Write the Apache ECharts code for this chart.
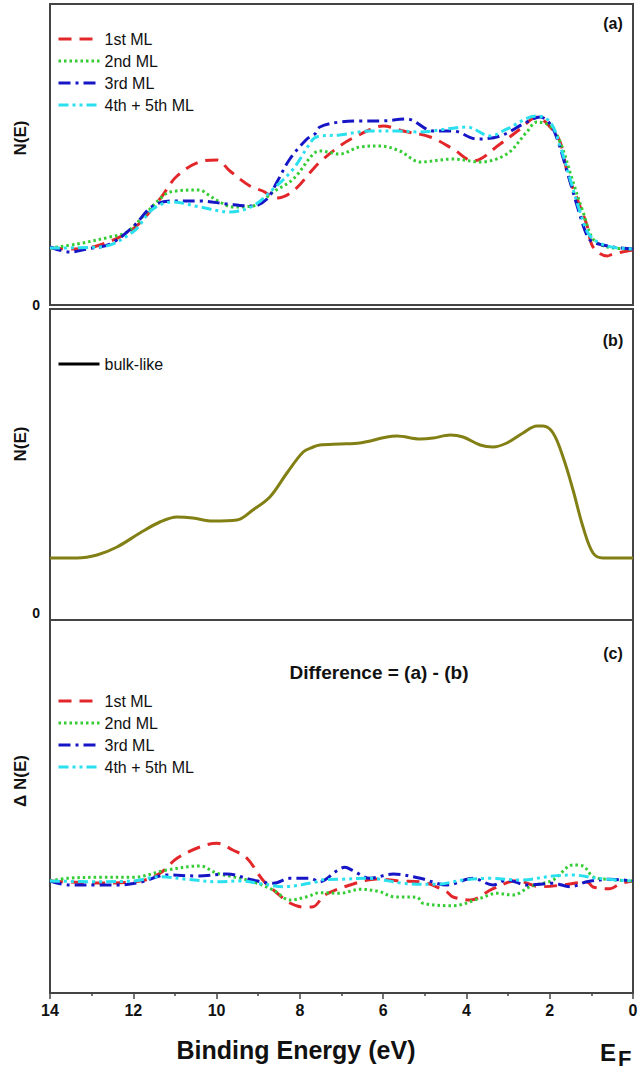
<!DOCTYPE html>
<html>
<head>
<meta charset="utf-8">
<script src="https://cdn.jsdelivr.net/npm/echarts/dist/echarts.min.js"></script>
<style>
  html, body { margin: 0; padding: 0; background: #fff; }
  #chart { width: 644px; height: 1070px; }
</style>
</head>
<body>
<div id="chart"></div>
<script>
// Valence-band spectra: binding energy (eV) vs N(E), arbitrary units.
// Each curve is a list of [binding energy, intensity] pairs.

// (a) monolayer spectra
const ml1A = [[14.0,57],[13.40,56],[12.80,60],[12.01,76],[11.36,106],[10.95,129],[10.33,144],[9.99,145],[9.68,134],[9.20,119],[8.89,114],[8.55,107],[8.16,114],[7.68,136],[7.52,143],[7.04,159],[6.63,169],[6.00,179],[5.52,174],[4.87,168],[4.32,156],[3.84,144],[3.19,161],[2.71,176],[2.31,188],[1.99,178],[1.75,163],[1.58,133],[1.34,106],[1.10,79],[0.96,58],[0.62,49],[0.48,51],[0.00,55]];
const ml2A = [[14.0,57],[13.35,61],[12.56,68],[12.15,73],[11.67,93],[11.36,106],[11.12,113],[10.40,115],[10.23,111],[9.92,103],[9.61,98],[9.13,99],[8.64,113],[8.16,126],[7.68,151],[7.52,154],[7.04,151],[6.56,158],[6.08,159],[5.60,154],[5.11,143],[4.32,146],[3.67,143],[3.03,151],[2.55,173],[2.31,183],[1.99,179],[1.75,163],[1.44,123],[1.20,93],[0.96,66],[0.62,58],[0.00,56]];
const ml3A = [[14.0,58],[13.52,53],[13.11,56],[12.56,61],[12.01,78],[11.53,99],[11.05,104],[10.40,104],[9.75,101],[9.13,99],[8.79,106],[8.55,123],[8.24,146],[7.83,166],[7.64,171],[7.52,178],[7.04,183],[6.56,184],[6.08,184],[5.43,186],[4.80,174],[4.32,174],[3.75,166],[3.19,169],[2.55,183],[2.23,188],[1.99,181],[1.82,166],[1.58,133],[1.34,99],[1.10,69],[0.96,63],[0.48,58],[0.00,56]];
const ml45A = [[14.0,57],[12.80,58],[12.01,73],[11.53,96],[11.05,103],[10.40,98],[9.68,93],[9.13,99],[8.64,116],[8.16,136],[7.68,166],[7.52,169],[7.04,170],[6.32,174],[5.67,174],[5.11,173],[4.47,176],[3.99,178],[3.43,169],[3.03,176],[2.31,189],[1.99,183],[1.75,159],[1.51,126],[1.27,93],[1.03,69],[0.62,59],[0.00,56]];

// (b) bulk-like reference spectrum
const bulk = [[14.0,62],[13.35,62],[12.87,65],[12.39,73],[11.84,87],[11.36,98],[10.95,103],[10.57,102],[10.09,99],[9.51,100],[9.13,110],[8.72,123],[8.31,147],[7.92,168],[7.68,173],[7.52,175],[7.04,176],[6.56,177],[5.91,183],[5.67,184],[5.11,181],[4.80,182],[4.39,185],[4.08,183],[3.67,175],[3.36,173],[3.03,177],[2.64,187],[2.31,194],[2.16,194],[1.92,187],[1.68,163],[1.44,130],[1.20,93],[0.96,67],[0.72,62],[0.00,62]];

// (c) difference spectra, (a) - (b)
const ml1C = [[14.0,0],[12.80,-2],[11.84,0],[11.36,7.7],[10.95,22.7],[10.40,34],[9.99,37.7],[9.61,31],[9.27,22.7],[8.89,1],[8.55,-12],[8.24,-22],[7.92,-26],[7.68,-25.7],[7.40,-14],[6.72,-3],[6.15,2],[5.60,0],[5.04,-1.3],[4.47,-11],[4.32,-16],[3.91,-19],[3.36,-7.7],[2.79,0.3],[2.23,-5.7],[1.68,-4],[1.10,-1],[0.96,-6],[0.55,-7.7],[0.31,-2.7],[0.00,0]];
const ml2C = [[14.0,0],[13.59,2.7],[12.80,3.7],[12.01,3.7],[11.19,11],[10.40,15],[9.99,7.7],[9.61,4.3],[9.13,-0.7],[8.64,-9],[8.24,-19],[7.83,-15.7],[7.52,-11.7],[7.04,-12.3],[6.56,-8.3],[6.08,-10.7],[5.76,-15.7],[5.19,-16.3],[5.04,-22.3],[4.32,-24.7],[3.67,-17.3],[3.27,-12.3],[2.88,-14],[2.47,-5.7],[1.92,1],[1.44,16],[1.20,15],[0.96,4.3],[0.62,1.7],[0.00,0]];
const ml3C = [[14.0,0],[13.52,-4],[12.87,-4],[12.39,-4],[11.84,-1.3],[11.19,6],[10.47,5],[9.75,7],[9.13,1],[8.64,-2.3],[8.24,2.7],[7.76,2.7],[7.52,-0.7],[7.11,10.3],[6.92,13.7],[6.72,10.3],[6.32,2.7],[5.76,7],[5.11,2.7],[4.47,-4],[3.84,2.7],[3.36,-4],[3.03,1],[2.55,-4],[1.92,-2.3],[1.51,-5.7],[1.10,-0.7],[0.55,1.7],[0.00,0]];
const ml45C = [[14.0,0],[12.80,-0.7],[12.01,0],[11.36,4.3],[10.71,1.7],[9.99,-0.7],[9.44,0],[8.89,-3],[8.40,-5.7],[7.59,-0.7],[7.52,1],[7.04,1.7],[6.32,2.7],[5.52,-2.3],[4.71,-3.3],[4.08,1],[3.43,2.7],[2.71,1],[1.92,5],[1.44,6],[0.86,2.7],[0.00,0]];

const layerNames = ['1st ML', '2nd ML', '3rd ML', '4th + 5th ML'];
const energyTicks = [14, 12, 10, 8, 6, 4, 2, 0];

const FONT = '"Liberation Sans", Arial, Helvetica, sans-serif';
const FRAME = '#444';

const lineStyles = {
  '1st ML':       { color: '#e3262a', width: 3, type: [13, 8] },
  '2nd ML':       { color: '#33cc33', width: 3, type: [2.5, 3] },
  '3rd ML':       { color: '#1616c6', width: 3, type: [12, 5, 3, 5] },
  '4th + 5th ML': { color: '#2ae0ee', width: 3, type: [10, 4, 3, 4, 3, 4] }
};

function curve(name, data, idx) {
  return {
    name: name,
    type: 'line',
    xAxisIndex: idx,
    yAxisIndex: idx,
    data: data,
    smooth: 0.35,
    symbol: 'none',
    showSymbol: false,
    lineStyle: Object.assign({}, lineStyles[name]),
    itemStyle: { color: lineStyles[name].color },
    z: 3
  };
}

const chart = echarts.init(document.getElementById('chart'), null, { renderer: 'svg' });

const gridBase = { show: true, borderColor: FRAME, borderWidth: 2, backgroundColor: 'transparent', left: 50, right: 11 };

function hiddenX(idx) {
  return {
    type: 'value', gridIndex: idx, min: 0, max: 14, interval: 2, inverse: true,
    axisLine: { show: false }, axisTick: { show: false }, axisLabel: { show: false }, splitLine: { show: false }
  };
}

function zeroY(idx, max, vAlign) {
  return {
    type: 'value', gridIndex: idx, min: 0, max: max, interval: max,
    axisLine: { show: false }, axisTick: { show: false }, splitLine: { show: false },
    axisLabel: {
      show: true, margin: 10, color: '#111', fontFamily: FONT, fontWeight: 'bold', fontSize: 14,
      verticalAlign: vAlign,
      formatter: v => (v === 0 ? '0' : '')
    }
  };
}

// Legend entries show only the line sample (the marker is hidden).
function legendAt(top, names) {
  return {
    orient: 'vertical', left: 52, top: top,
    itemWidth: 41, itemHeight: 14, itemGap: 6,
    data: names,
    selectedMode: false,
    itemStyle: { opacity: 0, borderWidth: 0, color: 'transparent' },
    lineStyle: { width: 3 },
    textStyle: { fontFamily: FONT, fontSize: 16, color: '#111' }
  };
}

const labelText = (x, y, text, size, extra) => Object.assign({
  type: 'text', x: x, y: y, silent: true,
  style: { text: text, fill: '#111', font: 'bold ' + size + 'px ' + FONT, textAlign: 'center', textVerticalAlign: 'middle' }
}, extra || {});

chart.setOption({
  backgroundColor: '#fff',
  animation: false,
  grid: [
    Object.assign({ top: 4, height: 301 }, gridBase),
    Object.assign({ top: 309, height: 311 }, gridBase),
    Object.assign({ top: 620, height: 373 }, gridBase)
  ],
  xAxis: [
    hiddenX(0),
    hiddenX(1),
    {
      type: 'value', gridIndex: 2, min: 0, max: 14, interval: 2, inverse: true,
      axisLine: { show: true, onZero: false, lineStyle: { color: FRAME, width: 2 } },
      axisTick: { show: true, inside: false, length: 6, lineStyle: { color: FRAME, width: 1.5 } },
      minorTick: { show: true, splitNumber: 2, length: 3, lineStyle: { color: FRAME, width: 1.5 } },
      splitLine: { show: false },
      axisLabel: {
        margin: 9, color: '#111', fontFamily: FONT, fontWeight: 'bold', fontSize: 16,
        formatter: v => (energyTicks.indexOf(v) >= 0 ? String(v) : '')
      }
    }
  ],
  yAxis: [
    zeroY(0, 301, 'middle'),
    zeroY(1, 311, 'bottom'),
    {
      type: 'value', gridIndex: 2, min: -112, max: 261,
      axisLine: { show: false }, axisTick: { show: false }, axisLabel: { show: false }, splitLine: { show: false }
    }
  ],
  legend: [
    legendAt(26, layerNames),
    Object.assign(legendAt(351, [{ name: 'bulk-like' }]), { lineStyle: { width: 3, color: '#000', type: 'solid' } }),
    legendAt(688, layerNames)
  ],
  series: [
    curve('1st ML', ml1A, 0),
    curve('2nd ML', ml2A, 0),
    curve('3rd ML', ml3A, 0),
    curve('4th + 5th ML', ml45A, 0),
    {
      name: 'bulk-like', type: 'line', xAxisIndex: 1, yAxisIndex: 1, data: bulk,
      smooth: 0.35, symbol: 'none', showSymbol: false,
      lineStyle: { color: '#828014', width: 3 }, itemStyle: { color: '#000' }
    },
    curve('1st ML', ml1C, 2),
    curve('2nd ML', ml2C, 2),
    curve('3rd ML', ml3C, 2),
    curve('4th + 5th ML', ml45C, 2)
  ],
  graphic: [
    labelText(613, 23, '(a)', 16),
    labelText(613, 340, '(b)', 16),
    labelText(613, 653, '(c)', 16),
    labelText(379, 672, 'Difference = (a) - (b)', 19),
    labelText(20, 138, 'N(E)', 17, { rotation: Math.PI / 2 }),
    labelText(20, 444, 'N(E)', 17, { rotation: Math.PI / 2 }),
    labelText(20, 781, '\u0394 N(E)', 17, { rotation: Math.PI / 2 }),
    labelText(296, 1050, 'Binding Energy (eV)', 25),
    {
      type: 'text', x: 600, y: 1052, silent: true,
      style: { text: 'E', fill: '#111', font: 'bold 24px ' + FONT, textAlign: 'left', textVerticalAlign: 'middle' }
    },
    {
      type: 'text', x: 618, y: 1058, silent: true,
      style: { text: 'F', fill: '#111', font: 'bold 22px ' + FONT, textAlign: 'left', textVerticalAlign: 'middle' }
    }
  ]
});
</script>
</body>
</html>
